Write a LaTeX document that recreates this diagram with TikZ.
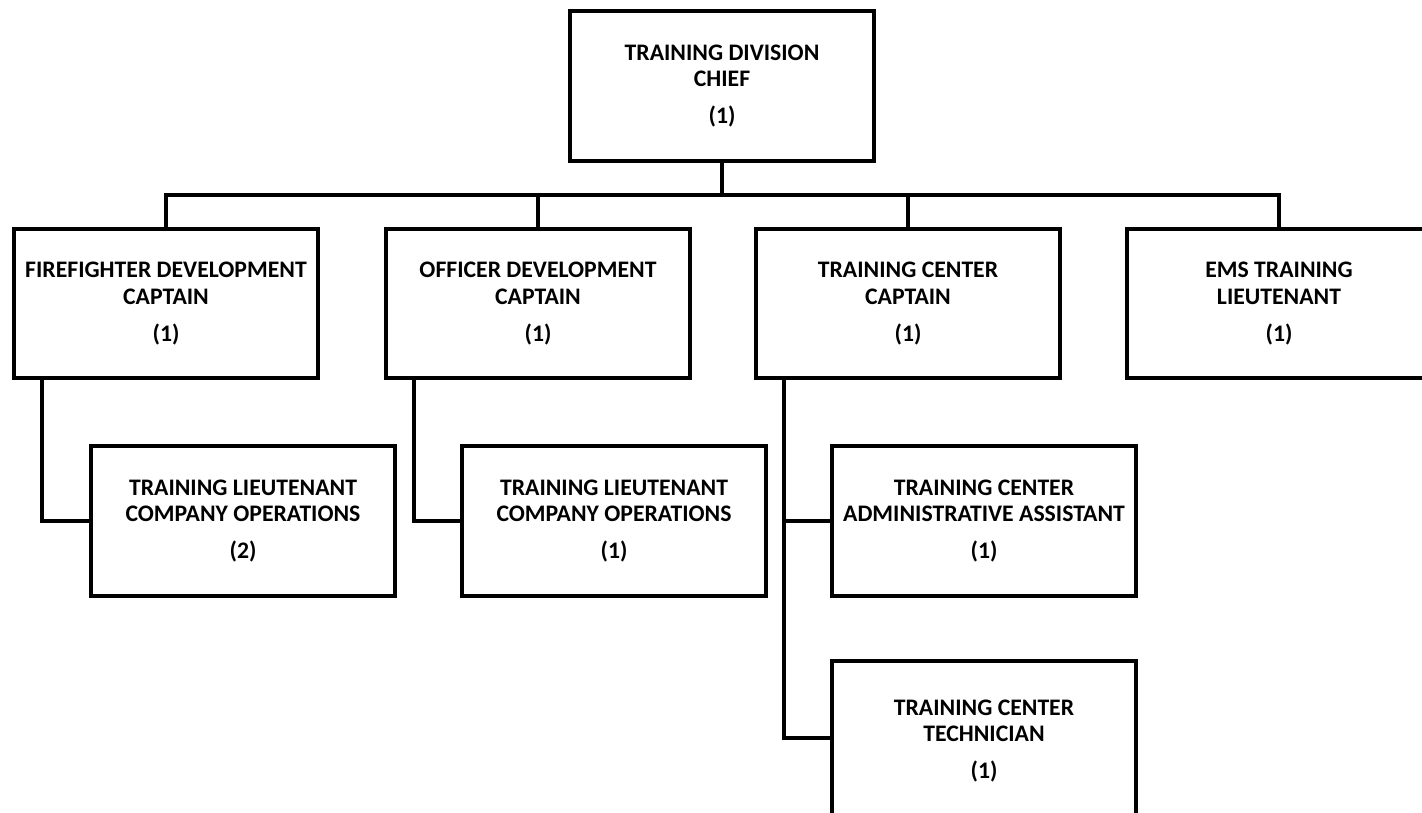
\documentclass[tikz,border=0pt]{standalone}
\usepackage{fontspec}
\setmainfont{Carlito}
\begin{document}
\begin{tikzpicture}[x=0.02cm,y=-0.02cm,
  post/.style={draw,line width=0.08cm,minimum width=6.1cm,minimum height=3.0cm,
    inner sep=0pt,align=center,font=\bfseries\fontsize{13.5}{15}\selectfont},
  link/.style={line width=0.08cm}]
\useasboundingbox (0,0) rectangle (1422,813);
\clip (0,0) rectangle (1422,813);

% Chief
\node[post] (chief) at (722,86) {TRAINING DIVISION\\CHIEF\\[6pt](1)};

% Captains and lieutenant
\node[post] (ffcapt) at (166,303.5) {FIREFIGHTER DEVELOPMENT\\CAPTAIN\\[6pt](1)};
\node[post] (ofcapt) at (538,303.5) {OFFICER DEVELOPMENT\\CAPTAIN\\[6pt](1)};
\node[post] (tccapt) at (908,303.5) {TRAINING CENTER\\CAPTAIN\\[6pt](1)};
\node[post] (emslt) at (1279,303.5) {EMS TRAINING\\LIEUTENANT\\[6pt](1)};

% Staff below
\node[post] (ffcolt) at (243,521) {TRAINING LIEUTENANT\\COMPANY OPERATIONS\\[6pt](2)};
\node[post] (ofcolt) at (614,521) {TRAINING LIEUTENANT\\COMPANY OPERATIONS\\[6pt](1)};
\node[post] (tcadmin) at (984,521) {TRAINING CENTER\\ADMINISTRATIVE ASSISTANT\\[6pt](1)};
\node[post,minimum height=3.2cm] (tctech) at (984,741) {TRAINING CENTER\\TECHNICIAN\\[6pt](1)};

% Bus line
\coordinate (bus) at (0,195);
\draw[link] (chief.south) -- (chief.south |- bus);
\draw[link] (ffcapt.north) |- (emslt.north |- bus) -- (emslt.north);
\foreach \n in {ofcapt,tccapt}
  \draw[link] (\n.north) -- (\n.north |- bus);

% Drop lines
\draw[link] ([xshift=0.6cm]ffcapt.south west) |- (ffcolt.west);
\draw[link] ([xshift=0.6cm]ofcapt.south west) |- (ofcolt.west);
\draw[link] ([xshift=0.6cm]tccapt.south west) |- ([yshift=0.06cm]tctech.west);
\draw[link] ([xshift=0.6cm]tccapt.south west |- tcadmin.west) -- (tcadmin.west);
\end{tikzpicture}
\end{document}
